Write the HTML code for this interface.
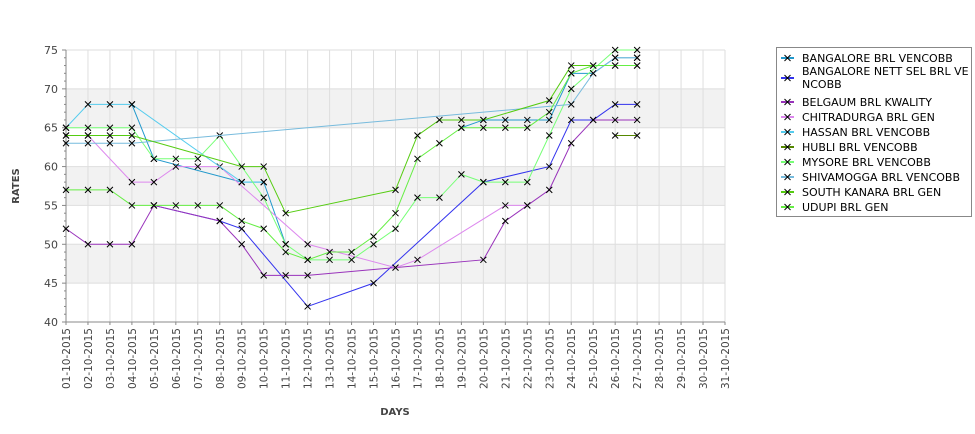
<!DOCTYPE html>
<html><head><meta charset="utf-8"><style>
body{margin:0;background:#fff;font-family:"Liberation Sans","DejaVu Sans",sans-serif;}
</style></head><body>
<svg id="chart" width="975" height="429" xmlns="http://www.w3.org/2000/svg" font-family="DejaVu Sans, Liberation Sans, sans-serif">
<g id="bands"></g><g id="grid"></g><g id="axes"></g><g id="series"></g>
<text x="0" y="0" transform="translate(19,186) rotate(-90)" text-anchor="middle" font-size="10" font-weight="bold" fill="#444">RATES</text>
<text x="395" y="415" text-anchor="middle" font-size="10" font-weight="bold" fill="#444">DAYS</text>
<g id="legend"></g>
</svg>
<script>
const categories = ["01-10-2015","02-10-2015","03-10-2015","04-10-2015","05-10-2015","06-10-2015","07-10-2015","08-10-2015","09-10-2015","10-10-2015","11-10-2015","12-10-2015","13-10-2015","14-10-2015","15-10-2015","16-10-2015","17-10-2015","18-10-2015","19-10-2015","20-10-2015","21-10-2015","22-10-2015","23-10-2015","24-10-2015","25-10-2015","26-10-2015","27-10-2015","28-10-2015","29-10-2015","30-10-2015","31-10-2015"];
const yTicks = [40,45,50,55,60,65,70,75];
const seriesNames = ["BANGALORE BRL VENCOBB","BANGALORE NETT SEL BRL VENCOBB","BELGAUM BRL KWALITY","CHITRADURGA BRL GEN","HASSAN BRL VENCOBB","HUBLI BRL VENCOBB","MYSORE BRL VENCOBB","SHIVAMOGGA BRL VENCOBB","SOUTH KANARA BRL GEN","UDUPI BRL GEN"];
const seriesColors = ["#2299cc","#3333ee","#9933bb","#dd88ee","#55ccee","#558800","#77ff77","#77bbdd","#55cc11","#66ee44"];
const N=null, B=NaN;
const bangalore = [N,N,N,68,61,N,N,N,58,58,50,B,N,N,N,N,N,N,65,66,66,66,66,72,72,74,74,N,N,N,N];
const nettSel = [N,N,N,N,55,N,N,53,52,N,N,42,N,N,45,N,N,N,N,58,N,N,60,66,66,68,68,N,N,N,N];
const belgaum = [52,50,50,50,55,N,N,53,50,46,46,46,N,N,N,N,N,N,N,48,53,55,57,63,66,66,66,N,N,N,N];
const chitradurga = [64,64,N,58,58,60,60,60,N,N,N,50,N,N,N,47,48,N,N,N,55,55,N,N,N,N,N,N,N,N,N];
const hassan = [65,68,68,68,N,N,N,N,58,58,N,N,N,N,N,N,N,N,N,N,N,N,N,N,N,N,N,N,N,N,N];
const hubli = [N,N,N,N,N,N,N,N,N,N,N,N,N,N,N,N,N,N,N,N,N,N,N,N,N,64,64,N,N,N,N];
const mysore = [65,65,65,65,61,61,61,64,N,56,50,48,48,48,50,52,56,56,59,58,58,58,64,70,N,75,75,N,N,N,N];
const shivamogga = [63,63,63,63,N,N,N,N,N,N,N,N,N,N,N,N,N,N,N,N,N,N,N,68,72,74,74,N,N,N,N];
const southKanara = [64,64,64,64,N,N,N,N,60,60,54,N,N,N,N,57,64,66,66,66,N,N,68.5,73,73,73,73,N,N,N,N];
const udupi = [57,57,57,55,55,55,55,55,53,52,49,48,49,49,51,54,61,63,65,65,65,65,67,72,73,73,73,N,N,N,N];
const seriesData = [bangalore,nettSel,belgaum,chitradurga,hassan,hubli,mysore,shivamogga,southKanara,udupi];

const NS="http://www.w3.org/2000/svg";
const L=66,R=725,T=50,Bt=322,yMin=40,yMax=75;
const xs=i=>L+i*(R-L)/(categories.length-1);
const ys=v=>Bt-(v-yMin)*(Bt-T)/(yMax-yMin);
function mk(tag,attrs,parent){const e=document.createElementNS(NS,tag);for(const k in attrs)e.setAttribute(k,attrs[k]);parent.appendChild(e);return e;}
const bands=document.getElementById('bands'),grid=document.getElementById('grid'),axes=document.getElementById('axes'),ser=document.getElementById('series'),leg=document.getElementById('legend');
for(let k=0;k<yTicks.length-1;k++){if(k%2==1){const r=mk('rect',{x:L,y:ys(yTicks[k+1]),width:R-L,height:ys(yTicks[k])-ys(yTicks[k+1]),fill:'#f2f2f2'},bands);

}}
categories.forEach((c,i)=>{const l=mk('line',{x1:xs(i),x2:xs(i),y1:T,y2:Bt,stroke:'#dedede'},grid);


const t=mk('text',{transform:`translate(${xs(i)+4},${Bt+6}) rotate(-90)`,'text-anchor':'end','font-size':'10.5',fill:'#444'},axes);t.textContent=c;


mk('line',{x1:xs(i),x2:xs(i),y1:Bt,y2:Bt+3,stroke:'#888'},axes);});
yTicks.forEach(v=>{const l=mk('line',{x1:L,x2:R,y1:ys(v),y2:ys(v),stroke:'#dedede'},grid);


const t=mk('text',{x:L-8,y:ys(v)+4,'text-anchor':'end','font-size':'11',fill:'#444'},axes);t.textContent=v;

});
for(let v=yMin;v<=yMax;v++){mk('line',{x1:L-(v%5?2:4),x2:L,y1:ys(v),y2:ys(v),stroke:'#888'},axes);}
mk('line',{x1:L,x2:L,y1:T,y2:Bt,stroke:'#888'},axes);
mk('line',{x1:L,x2:R,y1:Bt,y2:Bt,stroke:'#888'},axes);
seriesData.forEach((d,s)=>{const g=mk('g',{},ser);


let path='',pen=false;
d.forEach((v,i)=>{if(Number.isNaN(v)){pen=false;return;}if(v===null)return;path+=(pen?'L':'M')+xs(i)+','+ys(v);pen=true;});
mk('path',{d:path,fill:'none',stroke:seriesColors[s],'stroke-width':1},g);
d.forEach((v,i)=>{if(v===null||Number.isNaN(v))return;const x=xs(i),y=ys(v);
const m=mk('path',{d:`M${x-3},${y-3}L${x+3},${y+3}M${x-3},${y+3}L${x+3},${y-3}`,stroke:'#000','stroke-width':1},g);

});});
mk('rect',{x:776.5,y:47.5,width:195,height:169,fill:'#fff',stroke:'#888'},leg);
const legY=[58,78,102,117,132,147,162,177,192,207];
seriesNames.forEach((n,s)=>{const y=legY[s];const g=mk('g',{},leg);


mk('line',{x1:781,x2:794,y1:y,y2:y,stroke:seriesColors[s],'stroke-width':2},g);
mk('path',{d:`M784.5,${y-3}L790.5,${y+3}M784.5,${y+3}L790.5,${y-3}`,stroke:'#000'},g);
if(s===1){const t=mk('text',{x:802,y:y-3,'font-size':'11',fill:'#000'},g);t.textContent='BANGALORE NETT SEL BRL VE';const t2=mk('text',{x:802,y:y+10,'font-size':'11',fill:'#000'},g);t2.textContent='NCOBB';}
else{const t=mk('text',{x:802,y:y+4,'font-size':'11',fill:'#000'},g);t.textContent=n;}});
</script>
</body></html>
